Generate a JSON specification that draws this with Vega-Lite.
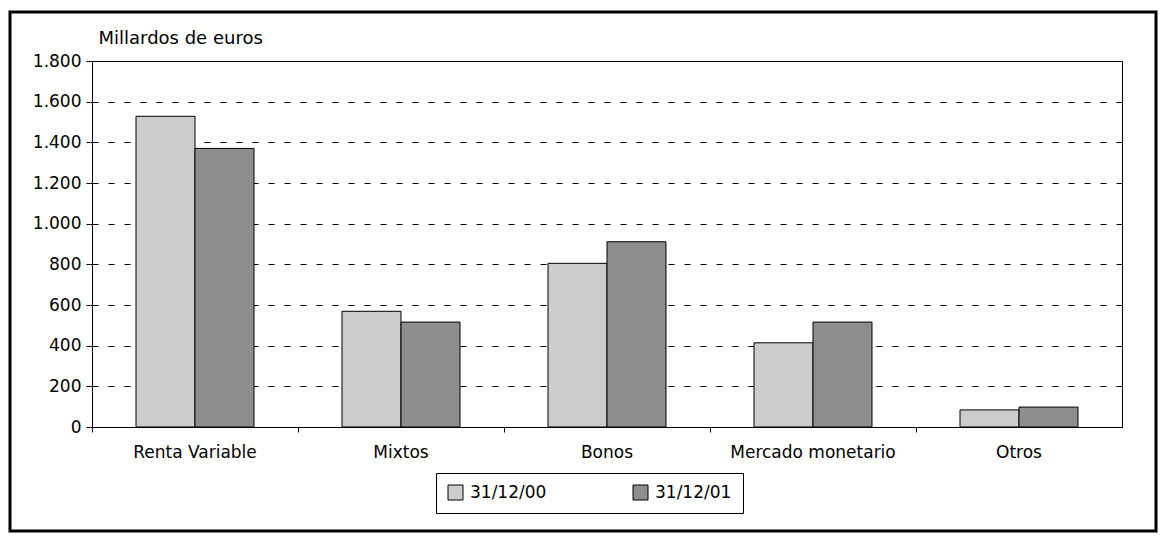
{
  "$schema": "https://vega.github.io/schema/vega-lite/v6.json",
  "width": 1030,
  "height": 366,
  "autosize": {"type": "none"},
  "padding": {"left": 92, "top": 61, "right": 39, "bottom": 110},
  "background": "white",
  "config": {
    "locale": {"number": {"decimal": ",", "thousands": ".", "grouping": [3], "currency": ["", " €"]}},
    "font": "DejaVu Sans",
    "view": {"stroke": "black", "strokeWidth": 1},
    "axis": {"labelFont": "DejaVu Sans", "titleFont": "DejaVu Sans", "labelColor": "black", "titleColor": "black"}
  },
  "datasets": {
    "bars": [
      {"categoria": "Renta Variable", "fecha": "31/12/00", "valor": 1528},
      {"categoria": "Renta Variable", "fecha": "31/12/01", "valor": 1370},
      {"categoria": "Mixtos", "fecha": "31/12/00", "valor": 569},
      {"categoria": "Mixtos", "fecha": "31/12/01", "valor": 516},
      {"categoria": "Bonos", "fecha": "31/12/00", "valor": 805},
      {"categoria": "Bonos", "fecha": "31/12/01", "valor": 911},
      {"categoria": "Mercado monetario", "fecha": "31/12/00", "valor": 414},
      {"categoria": "Mercado monetario", "fecha": "31/12/01", "valor": 516},
      {"categoria": "Otros", "fecha": "31/12/00", "valor": 84},
      {"categoria": "Otros", "fecha": "31/12/01", "valor": 98}
    ],
    "frame": [{"f": 1}]
  },
  "layer": [
    {
      "data": {"name": "frame"},
      "mark": {"type": "rect", "fill": null, "stroke": "black", "strokeWidth": 3, "clip": false},
      "encoding": {
        "x": {"value": -82},
        "x2": {"value": 1064},
        "y": {"value": -49},
        "y2": {"value": 470}
      }
    },
    {
      "data": {"name": "bars"},
      "mark": {"type": "bar", "stroke": "black", "strokeWidth": 1},
      "encoding": {
        "x": {
          "field": "categoria",
          "type": "nominal",
          "sort": ["Renta Variable", "Mixtos", "Bonos", "Mercado monetario", "Otros"],
          "scale": {"paddingInner": 0, "paddingOuter": 0},
          "axis": {
            "title": null,
            "labelAngle": 0,
            "labelFontSize": 17,
            "labelPadding": 12,
            "tickSize": 5,
            "tickColor": "black",
            "domainColor": "black",
            "bandPosition": 0,
            "grid": false
          }
        },
        "xOffset": {
          "field": "fecha",
          "type": "nominal",
          "scale": {"paddingInner": 0, "paddingOuter": 0.746}
        },
        "y": {
          "field": "valor",
          "type": "quantitative",
          "scale": {"domain": [0, 1800], "nice": false},
          "axis": {
            "title": "Millardos de euros",
            "titleAngle": 0,
            "titleAlign": "left",
            "titleBaseline": "alphabetic",
            "titleX": 6,
            "titleY": -18,
            "titleFontSize": 18,
            "titleFontWeight": "normal",
            "values": [0, 200, 400, 600, 800, 1000, 1200, 1400, 1600, 1800],
            "format": ",d",
            "labelFontSize": 17,
            "labelPadding": 5,
            "tickSize": 6,
            "tickColor": "black",
            "domainColor": "black",
            "grid": true,
            "gridColor": "black",
            "gridDash": [6, 10],
            "gridWidth": 1
          }
        },
        "fill": {
          "field": "fecha",
          "type": "nominal",
          "scale": {"domain": ["31/12/00", "31/12/01"], "range": ["#cccccc", "#8e8e8e"]},
          "legend": {
            "title": null,
            "orient": "none",
            "legendX": 344,
            "legendY": 412,
            "direction": "horizontal",
            "strokeColor": "black",
            "fillColor": "white",
            "padding": 11,
            "symbolType": "square",
            "symbolSize": 225,
            "symbolStrokeColor": "black",
            "symbolStrokeWidth": 1,
            "labelFontSize": 17,
            "labelFont": "DejaVu Sans",
            "labelColor": "black",
            "labelOffset": 6,
            "columnPadding": 84
          }
        }
      }
    }
  ]
}
